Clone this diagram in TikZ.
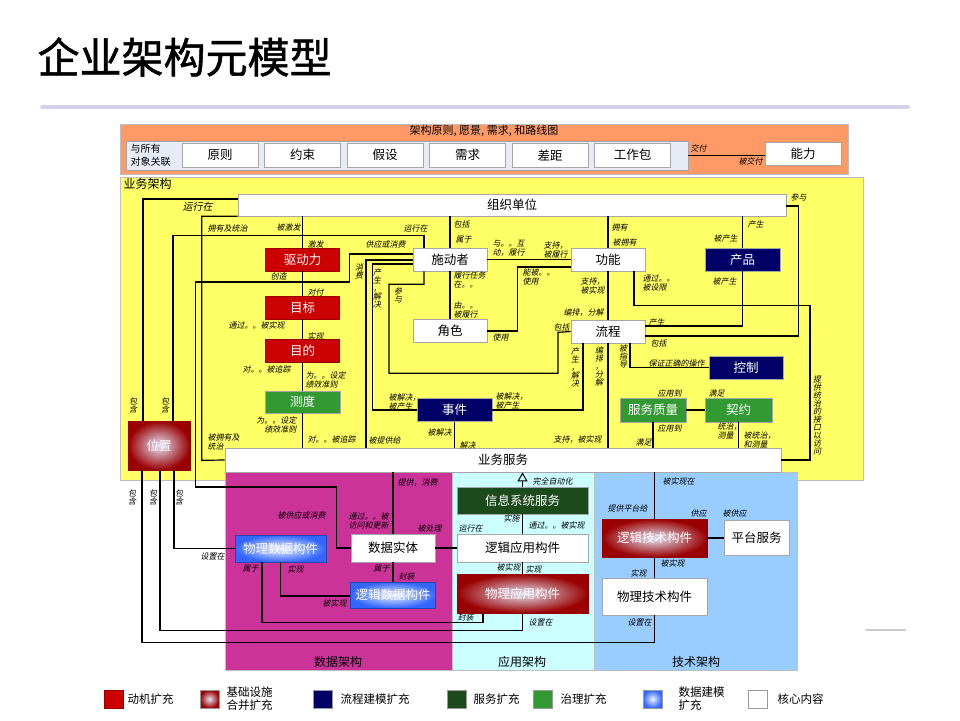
\documentclass[tikz,border=0pt]{standalone}
\usepackage{fontspec}
\setmainfont{Noto Sans CJK SC}
\newfontfamily\slfont[FakeSlant=0.2]{Noto Sans CJK SC}
\newfontfamily\headfont[FakeBold=1.2]{Noto Sans CJK SC}
\usetikzlibrary{arrows.meta}

\definecolor{motivered}{HTML}{CC0000}
\definecolor{infraout}{HTML}{990000}
\definecolor{infrain}{HTML}{E4E4F6}
\definecolor{procnavy}{HTML}{000066}
\definecolor{svcgreen}{HTML}{1C4A1C}
\definecolor{govgreen}{HTML}{339933}
\definecolor{dataout}{HTML}{3366FF}
\definecolor{datain}{HTML}{EEF3FF}
\definecolor{principbg}{HTML}{FF9966}
\definecolor{assocbg}{HTML}{E6EBF5}
\definecolor{busbg}{HTML}{FFFF66}
\definecolor{databg}{HTML}{CC3399}
\definecolor{appbg}{HTML}{CCFFFF}
\definecolor{techbg}{HTML}{99CCFF}
\definecolor{titlerule}{HTML}{D8D0EA}

\newcommand{\edgefont}{\slfont\fontsize{8}{9}\selectfont}
\newcommand{\edgevfont}{\slfont\fontsize{8}{8}\selectfont}

\begin{document}
\begin{tikzpicture}[x=1pt, y=-1pt, line width=1.2pt, node distance=82.5pt]

  \tikzstyle{box}=[draw=black!35, line width=0.6pt, inner sep=0pt, font=\fontsize{12.5}{14}\selectfont]
  \tikzstyle{core}=[box, fill=white]
  \tikzstyle{princ}=[core, minimum width=76, minimum height=24]
  \tikzstyle{motive}=[box, fill=motivered, draw=infraout, text=white]
  \tikzstyle{infra}=[box, shading=radial, inner color=infrain, outer color=infraout, draw=infraout, text=white]
  \tikzstyle{procm}=[box, fill=procnavy, text=white]
  \tikzstyle{svcx}=[box, fill=svcgreen, text=white]
  \tikzstyle{gov}=[box, fill=govgreen, text=white]
  \tikzstyle{datam}=[box, shading=radial, inner color=datain, outer color=dataout, draw=dataout!70!black, text=white]
  \tikzstyle{frame}=[draw=black!25, line width=0.6pt]
  \tikzstyle{area}=[inner sep=0pt, font=\fontsize{12}{14}\selectfont]
  \tikzstyle{lbl}=[inner sep=0pt, anchor=west, align=left, font=\edgefont]
  \tikzstyle{vlbl}=[inner sep=0pt, align=center, font=\edgevfont]
  \tikzstyle{key}=[draw=black!40, line width=0.6pt, minimum width=19, minimum height=18, inner sep=0pt]
  \tikzstyle{keytext}=[inner sep=0pt, anchor=west, align=left, font=\fontsize{11.5}{13}\selectfont]

  \useasboundingbox (0,0) rectangle (960,720);
  \fill[white] (0,0) rectangle (960,720);

  % title
  \node[anchor=west, inner sep=0pt, font=\headfont\fontsize{42}{44}\selectfont] (title) at (37,57) {企业架构元模型};
  \draw[titlerule, line width=3.5pt, line cap=round] (42,107) -- (908,107);
  \draw[black!20, line width=2pt, line cap=round] (866,630) -- (905,630);

  % areas
  \filldraw[frame, fill=principbg] (120,124) rectangle (848,174);
  \filldraw[frame, fill=busbg] (120,177) rectangle (863,480);
  \filldraw[frame, fill=databg] (225,472) rectangle (452,670);
  \filldraw[frame, fill=appbg] (452,472) rectangle (594,670);
  \filldraw[frame, fill=techbg] (594,472) rectangle (797,670);

  \node[area, font=\fontsize{11}{13}\selectfont] (prinhead) at (484,131) {架构原则, 愿景, 需求, 和路线图};
  \node[area, anchor=west] (bushead) at (123,184) {业务架构};
  \node[area] (datahead) at (338,662) {数据架构};
  \node[area] (apphead) at (522,662) {应用架构};
  \node[area] (techhead) at (696,662) {技术架构};

  % principles row
  \node[box, fill=assocbg, minimum width=562, minimum height=29] (assoc) at (407,155.5) {};
  \node[anchor=west, inner sep=0pt, align=left, font=\fontsize{10}{13}\selectfont] (assoctext) at (130,155.5) {与所有\\对象关联};
  \node[princ] (yuanze) at (220,155) {原则};
  \node[princ, right of=yuanze] (yueshu) {约束};
  \node[princ, right of=yueshu] (jiashe) {假设};
  \node[princ, right of=jiashe] (xuqiu) {需求};
  \node[princ, right of=xuqiu] (chaju) {差距};
  \node[princ, right of=chaju] (gongzuobao) {工作包};
  \node[core, minimum width=76, minimum height=23] (nengli) at (803,153.5) {能力};

  % business architecture
  \node[core, minimum width=548, minimum height=22] (org) at (512,205) {组织单位};
  \node[core, minimum width=556, minimum height=24] (bizsvc) at (503,460) {业务服务};
  \node[motive, minimum width=74, minimum height=23] (driver) at (302.5,259.5) {驱动力};
  \node[motive, minimum width=74, minimum height=23] (goal) at (302.5,307.5) {目标};
  \node[motive, minimum width=74, minimum height=23] (objective) at (302.5,350.5) {目的};
  \node[gov, minimum width=75, minimum height=22] (measure) at (302.5,402) {测度};
  \node[infra, minimum width=62, minimum height=49] (location) at (159,445.5) {位置};
  \node[core, minimum width=74, minimum height=23] (actor) at (450,259.5) {施动者};
  \node[core, minimum width=74, minimum height=23] (role) at (450,331) {角色};
  \node[core, minimum width=74, minimum height=23] (function) at (608,259.5) {功能};
  \node[core, minimum width=74, minimum height=23] (process) at (608,331.5) {流程};
  \node[procm, minimum width=75, minimum height=23] (product) at (742.5,259.5) {产品};
  \node[procm, minimum width=74, minimum height=23] (control) at (746,367.5) {控制};
  \node[procm, minimum width=75, minimum height=23] (event) at (454.5,410) {事件};
  \node[gov, minimum width=66, minimum height=24] (qos) at (653,410) {服务质量};
  \node[gov, minimum width=67, minimum height=24] (contract) at (738.5,410) {契约};

  % data / application / technology
  \node[svcx, minimum width=131, minimum height=27] (iss) at (522.5,500.5) {信息系统服务};
  \node[core, minimum width=131, minimum height=28] (lac) at (522.5,548) {逻辑应用构件};
  \node[infra, minimum width=131, minimum height=39] (pac) at (522.5,593.5) {物理应用构件};
  \node[datam, minimum width=91, minimum height=27] (pdc) at (280.5,548.5) {物理数据构件};
  \node[core, minimum width=84, minimum height=28] (dataent) at (393,548) {数据实体};
  \node[datam, minimum width=85, minimum height=26] (ldc) at (393,595) {逻辑数据构件};
  \node[infra, minimum width=105, minimum height=38] (ltc) at (654.5,538) {逻辑技术构件};
  \node[core, minimum width=65, minimum height=35] (platsvc) at (756.5,538) {平台服务};
  \node[core, minimum width=105, minimum height=37] (ptc) at (654.5,596.5) {物理技术构件};

  % connectors
  \draw (assoc.east) -- (assoc.east -| nengli.west);
  \draw ([yshift=6]org.west) -| ([xshift=-16]location.north);
  \draw ([xshift=-26]actor.north) -- ++(0,-12) -| ([xshift=14]location.north);
  \draw (org.south west) -| ++(-36,244) -- (bizsvc.west);
  \draw (org.south -| driver) -- (driver.north) (driver.south) -- (goal.north)
        (goal.south) -- (objective.north) (objective.south) -- (measure.north)
        (measure.south) -- (bizsvc.north -| measure);
  \draw ([yshift=5.5]actor.west) -| ++(-63,28) -| ++(-154,205) -| ++(141,61) -- (dataent.west);
  \draw ([yshift=-0.5]actor.west) -| ([xshift=-137]bizsvc.north);
  \draw ([yshift=-4.5]actor.west) -| ++(-40,146) -- (event.west);
  \draw (org.south -| actor) -- (actor.north) (actor.south) -- (role.north);
  \draw ([xshift=-26]actor.south) -- ++(0,13) -| ++(-35,89) -| ++(169,-41) -- (process.west);
  \draw (actor.east) -- (actor.east -| function.west);
  \draw ([yshift=-7.5]function.west) -| ++(-53,64) -- (role.east);
  \draw (org.south -| function) -- (function.north) (function.south) -- (process.north)
        (process.south) -- (bizsvc.north -| process);
  \draw ([xshift=-25]process.south) |- (event.east);
  \draw ([xshift=22]process.south) |- (control.west);
  \draw ([xshift=26]function.south) |- ++(176,34) |- (bizsvc.east);
  \draw (org.south -| product) -- (product.north) (product.south) |- ([yshift=5.5]process.east);
  \draw ([yshift=-1]org.east) -| ++(12,130) -- ([yshift=-4.5]process.east);
  \draw (qos.east) -- (contract.west);
  \draw (qos.south) -- (bizsvc.north -| qos);
  \draw (contract.south) -- (bizsvc.north -| contract);
  \draw (event.south) -- (bizsvc.north -| event);
  \draw[-{Triangle[open, length=9pt, width=10pt, line width=1pt]}] (iss.north) -- (bizsvc.south -| iss);
  \draw (iss.south) -- (lac.north) (lac.south) -- (pac.north);
  \draw (dataent.east) -- (lac.west);
  \draw (dataent.north) -- (bizsvc.south -| dataent);
  \draw (dataent.south) -- (ldc.north);
  \draw ([xshift=-18.5]pdc.south) |- ++(221,60) -- ([xshift=-39.5]pac.south);
  \draw (pdc.south) |- ([yshift=-1]ldc.west);
  \draw ([xshift=15]location.south) |- (pdc.west);
  \draw ([xshift=1]location.south) |- ++(362.5,160) -- (pac.south);
  \draw ([xshift=-17]location.south) |- ++(512.5,172) -- (ptc.south);
  \draw (ltc.north) -- (bizsvc.south -| ltc);
  \draw (ltc.east) -- (platsvc.west);
  \draw (ltc.south) -- (ptc.north);

  % connector labels
  \node[lbl] (lb1) at (690,148) {交付};
  \node[lbl] (lb2) at (738,161) {被交付};
  \node[lbl, font=\slfont\fontsize{10}{11}\selectfont] (lb3) at (182,207) {运行在};
  \node[lbl] (lb4) at (207,228) {拥有及统治};
  \node[lbl] (lb5) at (276,227) {被激发};
  \node[lbl] (lb6) at (307,244) {激发};
  \node[lbl] (lb7) at (270,276) {创造};
  \node[lbl] (lb8) at (307,292) {对付};
  \node[lbl] (lb9) at (228,325) {通过。。被实现};
  \node[lbl] (lb10) at (307,336) {实现};
  \node[lbl] (lb11) at (242,369) {对。。被追踪};
  \node[lbl] (lb12) at (305,379.5) {为。。设定\\绩效准则};
  \node[vlbl] (lb13) at (133,405) {包\\含};
  \node[vlbl] (lb14) at (165,405) {包\\含};
  \node[lbl, anchor=east, align=right] (lb15) at (297,425) {为。。设定\\绩效准则};
  \node[lbl] (lb16) at (207,442) {被拥有及\\统治};
  \node[lbl] (lb17) at (307,439) {对。。被追踪};
  \node[lbl] (lb18) at (403,228) {运行在};
  \node[lbl] (lb19) at (365,244) {供应或消费};
  \node[vlbl] (lb20) at (359,271) {消\\费};
  \node[vlbl] (lb21) at (377,288) {产\\生\\，\\解\\决};
  \node[vlbl] (lb22) at (398,295) {参\\与};
  \node[lbl] (lb23) at (453,224) {包括};
  \node[lbl] (lb24) at (455,240) {属于};
  \node[lbl] (lb25) at (492,248) {与。。互\\动，履行};
  \node[lbl] (lb26) at (543,249.5) {支持，\\被履行};
  \node[lbl] (lb27) at (453,280) {履行任务\\在。。};
  \node[lbl] (lb28) at (522,276.5) {能被。。\\使用};
  \node[lbl] (lb29) at (580,286) {支持，\\被实现};
  \node[lbl] (lb30) at (453,310) {由。。\\被履行};
  \node[lbl] (lb31) at (563,313) {编排，分解};
  \node[lbl] (lb32) at (492,337) {使用};
  \node[lbl] (lb33) at (553,327) {包括};
  \node[lbl] (lb34) at (611,227) {拥有};
  \node[lbl] (lb35) at (612,242) {被拥有};
  \node[lbl] (lb36) at (747,224) {产生};
  \node[lbl] (lb37) at (713,238) {被产生};
  \node[lbl] (lb38) at (790,197) {参与};
  \node[lbl] (lb39) at (642,283) {通过。。\\被设限};
  \node[lbl] (lb40) at (712,281) {被产生};
  \node[lbl] (lb41) at (648,322) {产生};
  \node[lbl] (lb42) at (650,343) {包括};
  \node[vlbl] (lb43) at (575,367) {产\\生\\，\\解\\决};
  \node[vlbl] (lb44) at (599,366) {编\\排\\，\\分\\解};
  \node[vlbl] (lb45) at (623,356) {被\\指\\导};
  \node[lbl] (lb46) at (648,363) {保证正确的操作};
  \node[lbl] (lb47) at (388,402) {被解决，\\被产生};
  \node[lbl] (lb48) at (495,401) {被解决，\\被产生};
  \node[lbl] (lb49) at (427,432) {被解决};
  \node[lbl] (lb50) at (368,440) {被提供给};
  \node[lbl] (lb51) at (459,445) {解决};
  \node[lbl] (lb52) at (553,440) {支持，被实现};
  \node[lbl] (lb53) at (657,393) {应用到};
  \node[lbl] (lb54) at (708,393) {满足};
  \node[lbl] (lb55) at (657,428) {应用到};
  \node[lbl] (lb56) at (717,430.5) {统治，\\测量};
  \node[lbl] (lb57) at (635,442) {满足};
  \node[lbl] (lb58) at (743,439.5) {被统治，\\和测量};
  \node[vlbl] (lb59) at (817,415) {提\\供\\统\\治\\的\\接\\口\\以\\访\\问};
  \node[vlbl] (lb60) at (132,497) {包\\含};
  \node[vlbl] (lb61) at (153,497) {包\\含};
  \node[vlbl] (lb62) at (179,497) {包\\含};
  \node[lbl] (lb63) at (397,483) {提供，消费};
  \node[lbl] (lb64) at (277,515) {被供应或消费};
  \node[lbl] (lb65) at (348,521) {通过。。被\\访问和更新};
  \node[lbl] (lb66) at (417,528) {被处理};
  \node[lbl] (lb67) at (200,556) {设置在};
  \node[lbl] (lb68) at (242,569) {属于};
  \node[lbl] (lb69) at (287,569) {实现};
  \node[lbl] (lb70) at (373,569) {属于};
  \node[lbl] (lb71) at (398,576) {封装};
  \node[lbl] (lb72) at (322,603) {被实现};
  \node[lbl] (lb73) at (532,481) {完全自动化};
  \node[lbl] (lb74) at (662,481) {被实现在};
  \node[lbl] (lb75) at (607,508) {提供平台给};
  \node[lbl] (lb76) at (690,513) {供应};
  \node[lbl] (lb77) at (722,513) {被供应};
  \node[lbl] (lb78) at (503,518) {实施};
  \node[lbl] (lb79) at (528,525) {通过。。被实现};
  \node[lbl] (lb80) at (458,528) {运行在};
  \node[lbl] (lb81) at (660,563) {被实现};
  \node[lbl] (lb82) at (496,567) {被实现};
  \node[lbl] (lb83) at (525,569) {实现};
  \node[lbl] (lb84) at (630,573) {实现};
  \node[lbl] (lb85) at (457,617) {封装};
  \node[lbl] (lb86) at (528,622) {设置在};
  \node[lbl] (lb87) at (627,622) {设置在};

  % legend
  \node[key, fill=motivered, draw=infraout] (k1) at (114,699) {};
  \node[keytext] (kt1) at (127,699) {动机扩充};
  \node[key, shading=radial, inner color=infrain, outer color=infraout] (k2) at (209.5,699) {};
  \node[keytext] (kt2) at (226,699) {基础设施\\合并扩充};
  \node[key, fill=procnavy] (k3) at (323,699) {};
  \node[keytext] (kt3) at (340,699) {流程建模扩充};
  \node[key, fill=svcgreen] (k4) at (456.5,699) {};
  \node[keytext] (kt4) at (473,699) {服务扩充};
  \node[key, fill=govgreen] (k5) at (543,699) {};
  \node[keytext] (kt5) at (560,699) {治理扩充};
  \node[key, shading=radial, inner color=datain, outer color=dataout] (k6) at (652.5,699) {};
  \node[keytext] (kt6) at (678,699) {数据建模\\扩充};
  \node[key, fill=white] (k7) at (757.5,699) {};
  \node[keytext] (kt7) at (777,699) {核心内容};

\end{tikzpicture}
\end{document}
